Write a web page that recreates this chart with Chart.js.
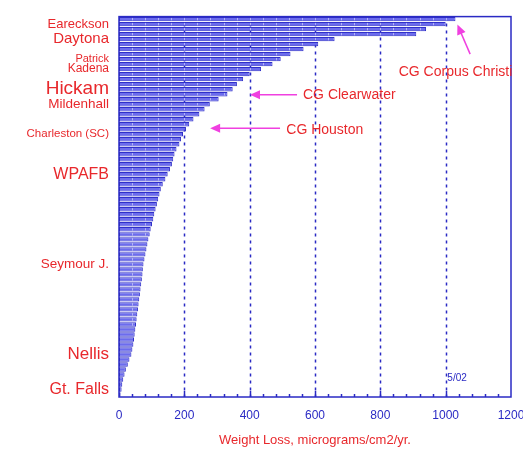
<!DOCTYPE html>
<html>
<head>
<meta charset="utf-8">
<script src="https://cdn.jsdelivr.net/npm/chart.js@4"></script>
<style>
  html, body { margin: 0; padding: 0; background: #fff; overflow: hidden; }
  #wrap { width: 523px; height: 457px; }
</style>
</head>
<body>
<div id="wrap"><canvas id="loss-chart"></canvas></div>
<script>
// weight loss per site, sorted from highest (top) to lowest (bottom)
const weightLoss = [
    1030, 1000, 940, 910, 660, 610, 565, 525, 495, 470,
    435, 400, 380, 361, 348, 332, 305, 278, 262, 246,
    228, 215, 205, 196, 190, 185, 176, 170, 166, 162,
    156, 149, 142, 134, 128, 124, 120, 116, 112, 108,
    105, 101, 97, 94, 90, 87, 84, 81, 78, 75,
    73, 72, 70, 68, 66, 64, 62, 60, 58, 56,
    54, 52, 50, 48, 46, 44, 41, 38, 32, 27,
    21, 17, 13, 10, 8, 5
];

// the few sites that get a name on the left, and the bar they sit on
const siteNames = ["Eareckson", "Daytona", "Patrick", "Kadena", "Hickam", "Mildenhall",
                   "Charleston (SC)", "WPAFB", "Seymour J.", "Nellis", "Gt. Falls"];
const siteRows  = [1, 4, 8, 10, 14, 17, 23, 31, 49, 67, 74];

const xTicks = [0, 200, 400, 600, 800, 1000, 1200];

const blue = "#2a2ac4";
const red = "#e8282c";
const magenta = "#f040e0";
const sans = "'Liberation Sans', Arial, sans-serif";
const narrow = "'Liberation Sans Narrow', 'Liberation Sans', sans-serif";

const labels = weightLoss.map(function (v, i) {
    const k = siteRows.indexOf(i);
    return k >= 0 ? siteNames[k] : "";
});

// label fonts differ a lot in the original slide
const labelFonts = {
    "Eareckson":       { size: 13 },
    "Daytona":         { size: 15 },
    "Patrick":         { size: 11 },
    "Kadena":          { size: 12 },
    "Hickam":          { size: 19 },
    "Mildenhall":      { size: 13.5 },
    "Charleston (SC)": { size: 11.5, family: narrow },
    "WPAFB":           { size: 16 },
    "Seymour J.":      { size: 13.5, family: narrow },
    "Nellis":          { size: 17 },
    "Gt. Falls":       { size: 16 }
};

const framePlugin = {
    id: "frame",
    beforeDatasetsDraw(chart) {
        const ctx = chart.ctx;
        const area = chart.chartArea;
        const x = chart.scales.x;
        ctx.save();
        ctx.strokeStyle = blue;
        ctx.lineWidth = 1.5;
        ctx.setLineDash([3, 4]);
        for (let v = 200; v < 1200; v += 200) {
            const px = Math.round(x.getPixelForValue(v)) + 0.5;
            ctx.beginPath();
            ctx.moveTo(px, area.top);
            ctx.lineTo(px, area.bottom);
            ctx.stroke();
        }
        ctx.restore();
    },
    afterDatasetsDraw(chart) {
        const ctx = chart.ctx;
        const area = chart.chartArea;
        const x = chart.scales.x;
        const meta = chart.getDatasetMeta(0);
        ctx.save();
        // segment lines inside each bar
        ctx.strokeStyle = "rgba(235,235,255,0.55)";
        ctx.lineWidth = 1;
        meta.data.forEach(function (bar, i) {
            const h = bar.height / 2 - 1;
            for (let v = 40; v < weightLoss[i] - 10; v += 40) {
                const px = Math.round(x.getPixelForValue(v)) + 0.5;
                ctx.beginPath();
                ctx.moveTo(px, bar.y - h);
                ctx.lineTo(px, bar.y + h);
                ctx.stroke();
            }
        });
        // frame
        ctx.strokeStyle = blue;
        ctx.lineWidth = 1.5;
        ctx.strokeRect(area.left, area.top, area.right - area.left, area.bottom - area.top);
        // inner ticks along the bottom
        for (let v = 40; v < 1200; v += 40) {
            const px = Math.round(x.getPixelForValue(v)) + 0.5;
            const len = v % 200 === 0 ? 6 : 3;
            ctx.beginPath();
            ctx.moveTo(px, area.bottom);
            ctx.lineTo(px, area.bottom - len);
            ctx.stroke();
        }
        ctx.restore();
    }
};

function arrow(ctx, x1, y1, x2, y2) {
    const ang = Math.atan2(y2 - y1, x2 - x1);
    ctx.beginPath();
    ctx.moveTo(x1, y1);
    ctx.lineTo(x2 - 6 * Math.cos(ang), y2 - 6 * Math.sin(ang));
    ctx.stroke();
    ctx.beginPath();
    ctx.moveTo(x2, y2);
    ctx.lineTo(x2 - 10 * Math.cos(ang) + 4.5 * Math.sin(ang), y2 - 10 * Math.sin(ang) - 4.5 * Math.cos(ang));
    ctx.lineTo(x2 - 10 * Math.cos(ang) - 4.5 * Math.sin(ang), y2 - 10 * Math.sin(ang) + 4.5 * Math.cos(ang));
    ctx.closePath();
    ctx.fill();
}

const notesPlugin = {
    id: "notes",
    afterDraw(chart) {
        const ctx = chart.ctx;
        const x = chart.scales.x;
        const y = chart.scales.y;
        const X = v => x.getPixelForValue(v);
        const Y = r => y.getPixelForValue(r);
        ctx.save();
        ctx.strokeStyle = magenta;
        ctx.fillStyle = magenta;
        ctx.lineWidth = 1.5;
        arrow(ctx, X(1075), Y(7), X(1036), Y(1.1));
        arrow(ctx, X(545), Y(15.1), X(401), Y(15.1));
        arrow(ctx, X(493), Y(21.8), X(279), Y(21.8));

        ctx.fillStyle = red;
        ctx.textAlign = "center";
        ctx.textBaseline = "middle";
        ctx.font = "14px " + sans;
        ctx.fillText("CG Corpus Christi", X(1030), Y(10.6));
        ctx.fillText("CG Clearwater", X(705), Y(15.1));
        ctx.fillText("CG Houston", X(630), Y(22.1));

        ctx.fillStyle = blue;
        ctx.font = "10px " + sans;
        ctx.fillText("5/02", X(1035), Y(71.8));
        ctx.restore();
    }
};

new Chart(document.getElementById("loss-chart"), {
    type: "bar",
    data: {
        labels: labels,
        datasets: [{
            data: weightLoss,
            backgroundColor: "rgba(100,100,236,0.95)",
            borderColor: "#3030c8",
            borderWidth: 1,
            barPercentage: 0.88,
            categoryPercentage: 1.0,
            borderSkipped: false
        }]
    },
    options: {
        indexAxis: "y",
        responsive: true,
        maintainAspectRatio: false,
        animation: false,
        layout: { padding: { top: 12, left: 0, right: 12, bottom: 0 } },
        plugins: {
            legend: { display: false },
            tooltip: { enabled: false }
        },
        scales: {
            x: {
                min: 0,
                max: 1200,
                afterBuildTicks(scale) {
                    scale.ticks = xTicks.map(v => ({ value: v }));
                },
                afterFit(scale) {
                    scale.height = 60;
                    scale.paddingLeft = 0;
                    scale.paddingRight = 0;
                },
                grid: { display: false, drawTicks: false },
                border: { display: false },
                ticks: {
                    color: blue,
                    padding: 11,
                    maxRotation: 0,
                    callback: v => String(v),
                    font: { family: sans, size: 12 }
                },
                title: {
                    display: true,
                    text: "Weight Loss, micrograms/cm2/yr.",
                    color: red,
                    padding: { top: 6, bottom: 9 },
                    font: { family: sans, size: 13 }
                }
            },
            y: {
                afterFit(scale) { scale.width = 119; },
                grid: { display: false, drawTicks: false },
                border: { display: false },
                ticks: {
                    autoSkip: false,
                    color: red,
                    padding: 10,
                    font: function (ctx) {
                        const f = labelFonts[ctx.tick && ctx.tick.label] || { size: 11 };
                        return { family: f.family || sans, size: f.size };
                    }
                }
            }
        }
    },
    plugins: [framePlugin, notesPlugin]
});
</script>
</body>
</html>
